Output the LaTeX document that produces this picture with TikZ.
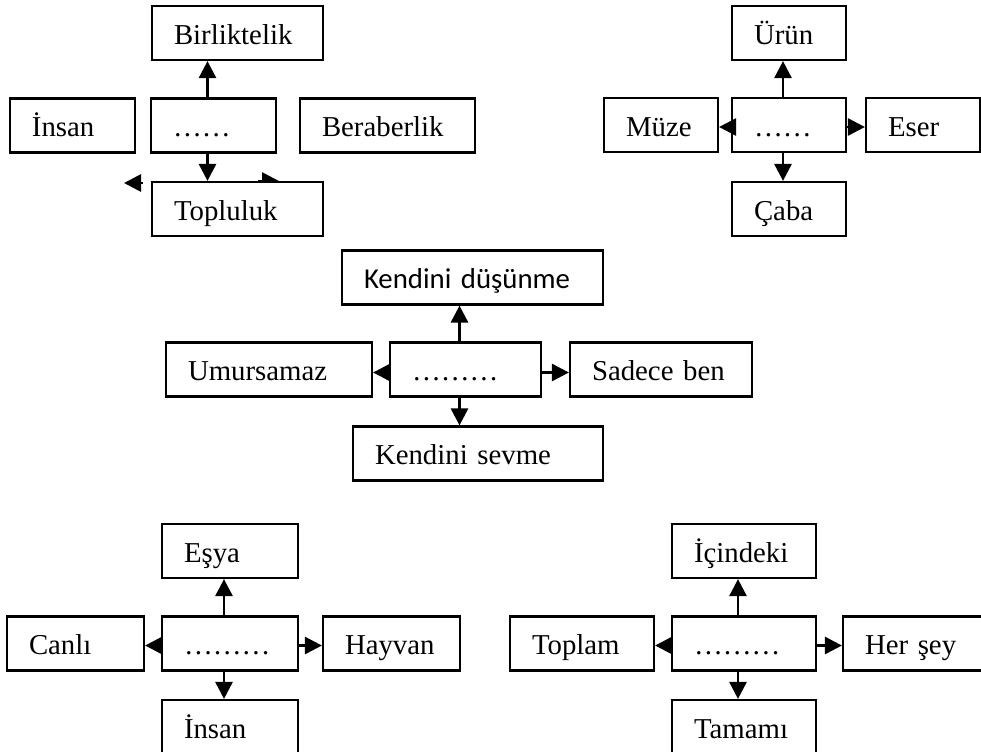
\documentclass[tikz,border=0pt]{standalone}
\usepackage{fontspec}
\setmainfont{Liberation Serif}
\newfontfamily\kalibri{Carlito}
\usetikzlibrary{arrows.meta}

\begin{document}
\begin{tikzpicture}[x=0.5pt,y=-0.5pt,
	kutu/.style={draw,fill=white,line width=1.1pt,inner xsep=11pt,inner ysep=0pt,
		minimum height=27pt,align=left,text width=#1,text height=13pt,text depth=2pt,
		font=\fontsize{14.4}{17}\selectfont},
	ok/.style={line width=1.4pt,-{Triangle[length=8.5pt,width=8.5pt]}}]
	\useasboundingbox (0,0) rectangle (981,751);

	\node[kutu=63.5pt] (a1) at (237.5,33) {Birliktelik};
	\node[kutu=40.5pt] (a2) at (72.5,125.5) {İnsan};
	\node[kutu=40.5pt] (a0) at (213.5,125.5) {……};
	\node[kutu=65.5pt] (a3) at (387.5,125.5) {Beraberlik};
	\coordinate (as1) at (143,183);
	\coordinate (as2) at (124,183);
	\coordinate (as3) at (258,181);
	\coordinate (as4) at (279,181);
	\draw[ok] (as1) -- (as2);
	\draw[ok] (as3) -- (as4);
	\node[kutu=63.5pt] (a4) at (237.5,209) {Topluluk};
	\draw[ok] ([xshift=-3pt]a0.north) -- ([xshift=-3pt]a0.north |- a1.south);
	\draw[ok] ([xshift=-3pt]a0.south) -- ([xshift=-3pt]a0.south |- a4.north);

	\node[kutu=35pt] (b1) at (789,33) {Ürün};
	\node[kutu=35pt] (b2) at (661,125) {Müze};
	\node[kutu=35pt] (b0) at (789,125) {……};
	\node[kutu=35pt] (b3) at (923,125) {Eser};
	\node[kutu=35pt] (b4) at (789,209) {Çaba};
	\draw[ok] ([xshift=-3pt]b0.north) -- ([xshift=-3pt]b0.north |- b1.south);
	\draw[ok] ([xshift=-3pt]b0.south) -- ([xshift=-3pt]b0.south |- b4.north);
	\draw[ok] ([yshift=-1pt]b0.west) -- ([yshift=-1pt]b0.west -| b2.east);
	\draw[ok] ([yshift=-1pt]b0.east) -- ([yshift=-1pt]b0.east -| b3.west);

	\node[kutu=108.5pt,font=\kalibri\fontsize{14.4}{17}\selectfont] (c1) at (472.5,277.5) {Kendini düşünme};
	\node[kutu=81pt] (c2) at (269,369.5) {Umursamaz};
	\node[kutu=53.5pt] (c0) at (465.5,369.5) {………};
	\node[kutu=69pt] (c3) at (661,369.5) {Sadece ben};
	\node[kutu=103pt] (c4) at (478,453.5) {Kendini sevme};
	\draw[ok] ([xshift=-3pt]c0.north) -- ([xshift=-3pt]c0.north |- c1.south);
	\draw[ok] ([xshift=-3pt]c0.south) -- ([xshift=-3pt]c0.south |- c4.north);
	\draw[ok] ([yshift=-1.5pt]c0.west) -- ([yshift=-1.5pt]c0.west -| c2.east);
	\draw[ok] ([yshift=-1.5pt]c0.east) -- ([yshift=-1.5pt]c0.east -| c3.west);

	\node[kutu=46pt] (d1) at (230,551) {Eşya};
	\node[kutu=46.5pt] (d2) at (75.5,643.5) {Canlı};
	\node[kutu=46pt] (d0) at (230,643.5) {………};
	\node[kutu=46.5pt] (d3) at (391.5,643.5) {Hayvan};
	\node[kutu=46pt] (d4) at (230,727) {İnsan};
	\draw[ok] ([xshift=-3pt]d0.north) -- ([xshift=-3pt]d0.north |- d1.south);
	\draw[ok] ([xshift=-3pt]d0.south) -- ([xshift=-3pt]d0.south |- d4.north);
	\draw[ok] ([yshift=-1pt]d0.west) -- ([yshift=-1pt]d0.west -| d2.east);
	\draw[ok] ([yshift=-1pt]d0.east) -- ([yshift=-1pt]d0.east -| d3.west);

	\node[kutu=50pt] (e1) at (744,551) {İçindeki};
	\node[kutu=50pt] (e2) at (582,643.5) {Toplam};
	\node[kutu=50pt] (e0) at (744,643.5) {………};
	\node[kutu=56.5pt] (e3) at (921.5,643.5) {Her şey};
	\node[kutu=50pt] (e4) at (744,727) {Tamamı};
	\draw[ok] ([xshift=-3pt]e0.north) -- ([xshift=-3pt]e0.north |- e1.south);
	\draw[ok] ([xshift=-3pt]e0.south) -- ([xshift=-3pt]e0.south |- e4.north);
	\draw[ok] ([yshift=-1pt]e0.west) -- ([yshift=-1pt]e0.west -| e2.east);
	\draw[ok] ([yshift=-1pt]e0.east) -- ([yshift=-1pt]e0.east -| e3.west);
\end{tikzpicture}
\end{document}
